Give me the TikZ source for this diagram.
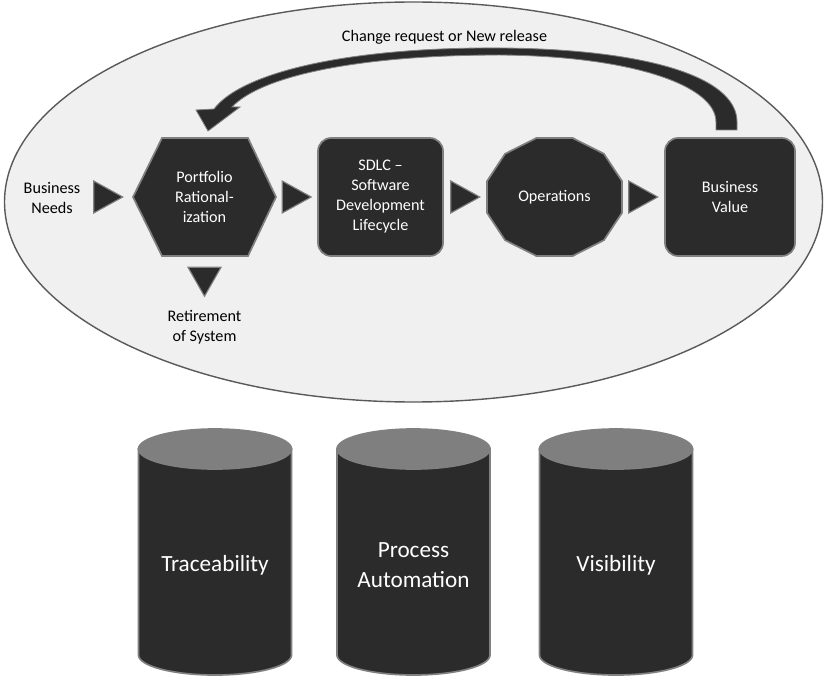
\documentclass[tikz,border=0pt]{standalone}
\usepackage{fontspec}
\setmainfont{Carlito}
\usetikzlibrary{calc}

\definecolor{shapefill}{HTML}{2B2B2B}
\definecolor{shapeline}{HTML}{808080}
\definecolor{ovalfill}{HTML}{F0F0F0}
\definecolor{ovalline}{HTML}{5A5A5A}
\definecolor{captop}{HTML}{7F7F7F}

\tikzset{
  darkshape/.style={fill=shapefill, draw=shapeline, line width=1.2pt},
  tri/.style={fill=shapefill, draw=shapeline, line width=0.8pt},
  smalltext/.style={font=\fontsize{11.5}{14.2}\selectfont, align=center},
  intext/.style={smalltext, text=white},
  bigtext/.style={font=\fontsize{16.5}{21.3}\selectfont, align=center, text=white},
}

\begin{document}
\begin{tikzpicture}[x=0.025cm, y=-0.025cm]
    \useasboundingbox (0,0) rectangle (827,682);

    % the lifecycle oval
    \filldraw[fill=ovalfill, draw=ovalline, line width=1pt] (413.5,202) ellipse (409 and 200);

    % loop back arrow
    \node[smalltext] (change) at (444.5,37) {Change request or New release};
    \filldraw[darkshape, line width=0.6pt] (737,130) -- (737,122)
        .. controls (737,75) and (640,49) .. (500,48)
        .. controls (350,47) and (242,72) .. (214,109)
        -- (196,110) -- (208,131) -- (240,107) -- (232,107)
        .. controls (262,75) and (362,55) .. (500,55)
        .. controls (630,56) and (716,85) .. (716,122)
        -- (716,130) -- cycle;

    % process shapes
    \coordinate (prc) at (204.5,197);
    \filldraw[darkshape] ($(prc)+(-71.5,0)$) -- ++(29,-59) -- ++(86,0) -- ++(28,59)
        -- ++(-28,59) -- ++(-86,0) -- cycle;
    \node[intext, minimum width=3.575cm, minimum height=2.95cm] (pr) at (prc) {Portfolio\\Rational-\\ization};

    \node[darkshape, intext, rounded corners=0.33cm, minimum width=3.125cm, minimum height=2.95cm] (sdlc) at (380.5,197) {SDLC --\\Software\\Development\\Lifecycle};

    \coordinate (opsc) at (554.5,197);
    \filldraw[darkshape] plot[samples=13, domain=15:375] ({554.5+69.9*cos(\x)},{197+61.1*sin(\x)}) -- cycle;
    \node[intext, minimum width=3.375cm, minimum height=2.95cm] (ops) at (opsc) {Operations};

    \node[darkshape, intext, rounded corners=0.33cm, minimum width=3.25cm, minimum height=2.95cm] (bv) at (730,197) {Business\\Value};

    % in and out
    \node[smalltext] (needs) at (52,198) {Business\\Needs};
    \node[smalltext] (retire) at (204.5,327) {Retirement\\of System};

    % triangles between the steps
    \filldraw[tri] ($(pr.west)+(-24.5,0)$) ++(-14.5,-16) -- ++(29,16) -- ++(-29,16) -- cycle;
    \foreach \a/\b in {pr/sdlc, sdlc/ops, ops/bv}
        \filldraw[tri] ($(\a.east)!0.5!(\b.west)$) ++(-14.5,-16) -- ++(29,16) -- ++(-29,16) -- cycle;
    \filldraw[tri] ($(pr.south)+(-16.5,11)$) -- ++(33,0) -- ++(-16.5,29) -- cycle;

    % pillars
    \foreach \cx/\nm/\txt in {215/trace/Traceability, 413.5/proc/{Process\\Automation}, 616/vis/Visibility} {
        \filldraw[darkshape] (\cx-76.5,449) -- (\cx-76.5,655)
            arc[start angle=180, end angle=0, x radius=76.5, y radius=20] -- (\cx+76.5,449) -- cycle;
        \filldraw[fill=captop, draw=shapeline, line width=1.2pt] (\cx,449) ellipse (76.5 and 20);
        \node[bigtext] (\nm) at (\cx,565) {\txt};
    }
\end{tikzpicture}
\end{document}
